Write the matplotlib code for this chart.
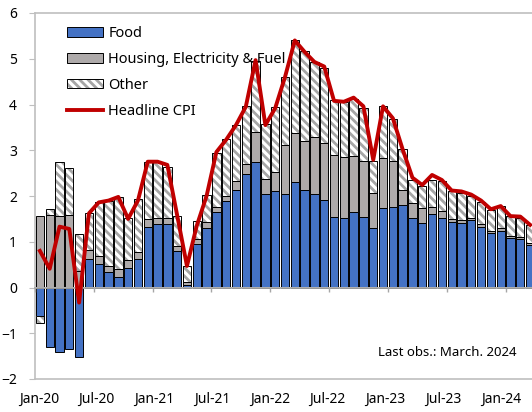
import matplotlib.pyplot as plt
plt.switch_backend('agg')
import numpy as np
from matplotlib.patches import Patch
from matplotlib.lines import Line2D
from matplotlib.legend_handler import HandlerTuple

# contributions to CPI inflation, % points, Jan-20 .. Mar-24
food = [-0.62, -1.31, -1.40, -1.34, -1.51, 0.62, 0.51, 0.33, 0.24, 0.42,
        0.62, 1.33, 1.38, 1.39, 0.80, 0.06, 0.95, 1.31, 1.65, 1.88,
        2.13, 2.48, 2.75, 2.05, 2.11, 2.04, 2.30, 2.13, 2.05, 1.91,
        1.55, 1.53, 1.66, 1.54, 1.29, 1.73, 1.75, 1.80, 1.51, 1.40,
        1.60, 1.51, 1.44, 1.42, 1.48, 1.33, 1.19, 1.24, 1.09, 1.05, 0.93]
housing = [1.56, 1.59, 1.56, 1.59, 0.35, 0.19, 0.18, 0.15, 0.16, 0.18,
           0.15, 0.16, 0.15, 0.14, 0.11, 0.05, 0.10, 0.12, 0.12, 0.12,
           0.20, 0.22, 0.65, 0.32, 0.41, 1.07, 1.07, 1.08, 1.25, 1.25,
           1.34, 1.33, 1.22, 1.23, 0.78, 1.10, 1.01, 0.34, 0.33, 0.33,
           0.15, 0.16, 0.05, 0.06, 0.05, 0.06, 0.05, 0.06, 0.04, 0.05, 0.04]
other = [-0.16, 0.12, 1.18, 1.02, 0.81, 0.82, 1.17, 1.40, 1.57, 0.91,
         1.16, 1.25, 1.21, 1.11, 0.66, 0.35, 0.41, 0.60, 1.18, 1.25,
         1.23, 1.26, 1.55, 1.20, 1.42, 1.50, 2.03, 1.95, 1.63, 1.64,
         1.20, 1.20, 1.24, 1.15, 0.70, 1.13, 0.93, 0.89, 0.52, 0.49,
         0.60, 0.65, 0.61, 0.58, 0.48, 0.47, 0.46, 0.48, 0.43, 0.43, 0.40]
cpi = [0.80, 0.41, 1.33, 1.28, -0.33, 1.62, 1.86, 1.90, 1.98, 1.50,
       1.90, 2.75, 2.75, 2.68, 1.58, 0.47, 1.35, 2.00, 2.96, 3.23,
       3.55, 3.95, 4.97, 3.55, 3.92, 4.60, 5.40, 5.15, 4.93, 4.83,
       4.08, 4.06, 4.15, 3.96, 2.79, 3.96, 3.70, 3.02, 2.40, 2.24,
       2.46, 2.35, 2.12, 2.10, 2.03, 1.90, 1.71, 1.78, 1.56, 1.55, 1.37]
xlabels = ["Jan-20", "Jul-20", "Jan-21", "Jul-21", "Jan-22",
           "Jul-22", "Jan-23", "Jul-23", "Jan-24"]

BLUE = "#4472C4"
GRAY = "#AEAAAA"
RED = "#C00000"
FRAME = "#BFBFBF"
HATCH = "\\\\\\\\"

plt.rcParams['font.family'] = ['Noto Sans', 'DejaVu Sans']
plt.rcParams['font.size'] = 10
plt.rcParams['hatch.linewidth'] = 2.0

fig = plt.figure(figsize=(5.32, 4.12), dpi=100)
ax = fig.add_axes([35 / 532, 33 / 412, 500 / 532, 366 / 412])

x = np.arange(len(food))
pos = np.zeros(len(x))
neg = np.zeros(len(x))


def stack(vals):
    # excel style: positives and negatives pile up separately
    vals = np.asarray(vals, dtype=float)
    bottom = np.where(vals >= 0, pos, neg)
    pos[:] += np.clip(vals, 0, None)
    neg[:] += np.clip(vals, None, 0)
    return bottom


w = 0.85
b = stack(food)
ax.bar(x, food, w, bottom=b, color=BLUE, edgecolor="black", linewidth=0.7, zorder=2)
b = stack(housing)
ax.bar(x, housing, w, bottom=b, color=GRAY, edgecolor="black", linewidth=0.7, zorder=2)
b = stack(other)
ax.bar(x, other, w, bottom=b, color="white", edgecolor="#A6A6A6", hatch=HATCH,
       linewidth=0, zorder=2)
ax.bar(x, other, w, bottom=b, fill=False, edgecolor="black", linewidth=0.7, zorder=2)

ax.plot(x, cpi, color=RED, linewidth=2.8, zorder=4)

ax.set_xlim(-0.5, 50.5)
ax.set_ylim(-2, 6)

# zero line with half-year ticks between bars
zero = ax.secondary_xaxis(2 / 8)
zero.set_xticks(np.arange(-0.5, 51, 6))
zero.tick_params(length=3, color="#A6A6A6", width=1, labelbottom=False)
zero.spines["bottom"].set_color("#A6A6A6")
zero.spines["bottom"].set_linewidth(1.3)
zero.set_zorder(3)

for s in ["left", "top", "bottom"]:
    ax.spines[s].set_color(FRAME)
    ax.spines[s].set_linewidth(1.2)
ax.spines["right"].set_visible(False)

ax.set_yticks(np.arange(-2, 7, 1))
ax.tick_params(axis="y", length=4, color=FRAME, pad=9, labelsize=10)
# excel spreads the date labels a bit tighter than the bars
ax.set_xticks(np.arange(len(xlabels)) * 5.89 - 0.1)
ax.set_xticklabels(xlabels)
ax.tick_params(axis="x", length=0, pad=9, labelsize=10)

h_other = (Patch(facecolor="white", edgecolor="#A6A6A6", hatch=HATCH, linewidth=0),
           Patch(fill=False, edgecolor="black", linewidth=0.7))
handles = [Patch(facecolor=BLUE, edgecolor="black", linewidth=0.7),
           Patch(facecolor=GRAY, edgecolor="black", linewidth=0.7),
           h_other,
           Line2D([], [], color=RED, linewidth=2.8)]
names = ["Food", "Housing, Electricity & Fuel", "Other", "Headline CPI"]
ax.legend(handles, names, loc="upper left", bbox_to_anchor=(0.037, 1.0),
          frameon=False, handlelength=2.5, handleheight=0.6, labelspacing=0.75,
          handletextpad=0.35, fontsize=10.5,
          handler_map={tuple: HandlerTuple(ndivide=1, pad=0)})

fig.text(516 / 532, 1 - 352 / 412, "Last obs.: March. 2024", ha="right", va="center",
         fontsize=9.5)

fig.savefig("out.png", dpi=100)
